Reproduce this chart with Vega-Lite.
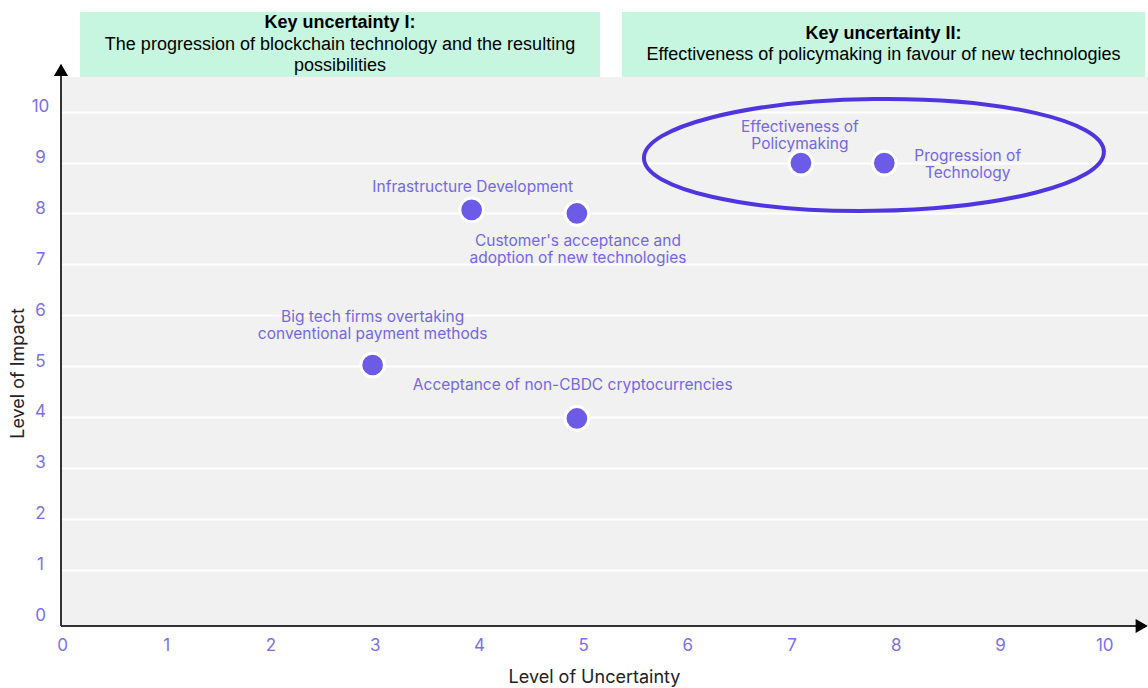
{
  "$schema": "https://vega.github.io/schema/vega-lite/v6.json",
  "width": 1087,
  "height": 614,
  "autosize": {"type": "none"},
  "padding": {"left": 61, "top": 12, "right": 0, "bottom": 62},
  "background": "white",
  "config": {
    "view": {"fill": "#f1f1f1", "stroke": null},
    "axisX": {
      "domain": false, "ticks": false, "grid": false,
      "labelColor": "#7b6ff0", "labelFont": "Inter", "labelFontSize": 17, "labelPadding": 11,
      "titleFont": "Inter", "titleFontSize": 18, "titleFontWeight": "normal", "titleColor": "#222222",
      "titleX": 533, "titleY": 51, "titleBaseline": "middle"
    },
    "axisY": {
      "domain": false, "ticks": false, "grid": true, "gridColor": "#ffffff", "gridWidth": 2,
      "labelColor": "#7b6ff0", "labelFont": "Inter", "labelFontSize": 17, "labelPadding": 21,
      "labelAlign": "center", "labelBaseline": "middle", "labelOffset": -5,
      "titleFont": "Inter", "titleFontSize": 18, "titleFontWeight": "normal", "titleColor": "#222222",
      "titleX": -43, "titleY": 361, "titleAngle": -90, "titleAlign": "center", "titleBaseline": "middle"
    }
  },
  "datasets": {
    "band": [{"x1": -0.01, "x2": 10.42, "y1": 10.682, "y2": 11.96}],
    "boxes": [
      {"x1": 0.173, "x2": 5.162, "y1": 10.682, "y2": 11.96},
      {"x1": 5.373, "x2": 10.391, "y1": 10.682, "y2": 11.96}
    ],
    "axisLines": [
      {"x1": -0.01, "y1": -0.11, "x2": -0.01, "y2": 10.8},
      {"x1": -0.01, "y1": -0.11, "x2": 10.35, "y2": -0.11}
    ],
    "arrowUp": [{"x": -0.01, "y": 10.82}],
    "arrowRight": [{"x": 10.36, "y": -0.11}],
    "ellipse": [{"x": 7.79, "y": 9.15}],
    "points": [
      {"name": "Big tech firms overtaking conventional payment methods", "uncertainty": 2.98, "impact": 5.02},
      {"name": "Infrastructure Development", "uncertainty": 3.93, "impact": 8.07},
      {"name": "Customer's acceptance and adoption of new technologies", "uncertainty": 4.94, "impact": 8.0},
      {"name": "Acceptance of non-CBDC cryptocurrencies", "uncertainty": 4.94, "impact": 3.97},
      {"name": "Effectiveness of Policymaking", "uncertainty": 7.09, "impact": 8.99},
      {"name": "Progression of Technology", "uncertainty": 7.89, "impact": 8.99}
    ],
    "labels": [
      {"text": "Infrastructure Development", "x": 3.94, "y": 8.52},
      {"text": "Customer's acceptance and", "x": 4.95, "y": 7.458},
      {"text": "adoption of new technologies", "x": 4.95, "y": 7.124},
      {"text": "Big tech firms overtaking", "x": 2.98, "y": 5.964},
      {"text": "conventional payment methods", "x": 2.98, "y": 5.63},
      {"text": "Acceptance of non-CBDC cryptocurrencies", "x": 4.9, "y": 4.628},
      {"text": "Effectiveness of", "x": 7.08, "y": 9.699},
      {"text": "Policymaking", "x": 7.08, "y": 9.365},
      {"text": "Progression of", "x": 8.69, "y": 9.129},
      {"text": "Technology", "x": 8.69, "y": 8.795}
    ],
    "headTitles": [
      {"text": "Key uncertainty I:", "x": 2.667, "y": 11.744},
      {"text": "Key uncertainty II:", "x": 7.882, "y": 11.527}
    ],
    "headBody": [
      {"text": "The progression of blockchain technology and the resulting", "x": 2.667, "y": 11.311},
      {"text": "possibilities", "x": 2.667, "y": 10.898},
      {"text": "Effectiveness of policymaking in favour of new technologies", "x": 7.882, "y": 11.115}
    ]
  },
  "layer": [
    {
      "data": {"name": "band"},
      "mark": {"type": "rect", "fill": "#ffffff"},
      "encoding": {
        "x": {"field": "x1", "type": "quantitative", "title": "Level of Uncertainty", "scale": {"domain": [-0.01, 10.42], "nice": false, "zero": false},
              "axis": {"values": [0, 1, 2, 3, 4, 5, 6, 7, 8, 9, 10], "format": "d"}},
        "x2": {"field": "x2"},
        "y": {"field": "y1", "type": "quantitative", "title": "Level of Impact", "scale": {"domain": [-0.11, 11.96], "nice": false, "zero": false},
              "axis": {"values": [0, 1, 2, 3, 4, 5, 6, 7, 8, 9, 10], "format": "d", "gridOpacity": {"condition": {"test": "datum.value === 0", "value": 0}, "value": 1}}},
        "y2": {"field": "y2"}
      }
    },
    {
      "data": {"name": "boxes"},
      "mark": {"type": "rect", "fill": "#c6f6df"},
      "encoding": {
        "x": {"field": "x1", "type": "quantitative", "title": "Level of Uncertainty", "scale": {"domain": [-0.01, 10.42], "nice": false, "zero": false}},
        "x2": {"field": "x2"},
        "y": {"field": "y1", "type": "quantitative", "title": "Level of Impact", "scale": {"domain": [-0.11, 11.96], "nice": false, "zero": false}},
        "y2": {"field": "y2"}
      }
    },
    {
      "data": {"name": "axisLines"},
      "mark": {"type": "rule", "color": "#333333", "strokeWidth": 2},
      "encoding": {
        "x": {"field": "x1", "type": "quantitative", "title": "Level of Uncertainty", "scale": {"domain": [-0.01, 10.42], "nice": false, "zero": false}},
        "x2": {"field": "x2"},
        "y": {"field": "y1", "type": "quantitative", "title": "Level of Impact", "scale": {"domain": [-0.11, 11.96], "nice": false, "zero": false}},
        "y2": {"field": "y2"}
      }
    },
    {
      "data": {"name": "arrowUp"},
      "mark": {"type": "point", "shape": "triangle-up", "filled": true, "color": "#000000", "size": 200, "opacity": 1},
      "encoding": {
        "x": {"field": "x", "type": "quantitative", "title": "Level of Uncertainty", "scale": {"domain": [-0.01, 10.42], "nice": false, "zero": false}},
        "y": {"field": "y", "type": "quantitative", "title": "Level of Impact", "scale": {"domain": [-0.11, 11.96], "nice": false, "zero": false}}
      }
    },
    {
      "data": {"name": "arrowRight"},
      "mark": {"type": "point", "shape": "triangle-right", "filled": true, "color": "#000000", "size": 200, "opacity": 1},
      "encoding": {
        "x": {"field": "x", "type": "quantitative", "title": "Level of Uncertainty", "scale": {"domain": [-0.01, 10.42], "nice": false, "zero": false}},
        "y": {"field": "y", "type": "quantitative", "title": "Level of Impact", "scale": {"domain": [-0.11, 11.96], "nice": false, "zero": false}}
      }
    },
    {
      "data": {"name": "ellipse"},
      "mark": {"type": "point", "filled": false, "stroke": "#4f35e0", "strokeWidth": 4, "opacity": 1, "size": 211600, "angle": -0.8,
               "shape": "M-1,0C-1,-0.1342,-0.5523,-0.243,0,-0.243C0.5523,-0.243,1,-0.1342,1,0C1,0.1342,0.5523,0.243,0,0.243C-0.5523,0.243,-1,0.1342,-1,0Z"},
      "encoding": {
        "x": {"field": "x", "type": "quantitative", "title": "Level of Uncertainty", "scale": {"domain": [-0.01, 10.42], "nice": false, "zero": false}},
        "y": {"field": "y", "type": "quantitative", "title": "Level of Impact", "scale": {"domain": [-0.11, 11.96], "nice": false, "zero": false}}
      }
    },
    {
      "data": {"name": "points"},
      "mark": {"type": "point", "shape": "circle", "filled": true, "fill": "#6b5be6", "stroke": "#ffffff", "strokeWidth": 3, "size": 560, "opacity": 1},
      "encoding": {
        "x": {"field": "uncertainty", "type": "quantitative", "title": "Level of Uncertainty", "scale": {"domain": [-0.01, 10.42], "nice": false, "zero": false}},
        "y": {"field": "impact", "type": "quantitative", "title": "Level of Impact", "scale": {"domain": [-0.11, 11.96], "nice": false, "zero": false}},
        "tooltip": {"field": "name"}
      }
    },
    {
      "data": {"name": "labels"},
      "mark": {"type": "text", "font": "Inter", "fontSize": 15.5, "color": "#7466e8", "align": "center", "baseline": "middle"},
      "encoding": {
        "x": {"field": "x", "type": "quantitative", "title": "Level of Uncertainty", "scale": {"domain": [-0.01, 10.42], "nice": false, "zero": false}},
        "y": {"field": "y", "type": "quantitative", "title": "Level of Impact", "scale": {"domain": [-0.11, 11.96], "nice": false, "zero": false}},
        "text": {"field": "text"}
      }
    },
    {
      "data": {"name": "headTitles"},
      "mark": {"type": "text", "font": "Liberation Sans", "fontSize": 18, "fontWeight": "bold", "color": "#000000", "align": "center", "baseline": "middle"},
      "encoding": {
        "x": {"field": "x", "type": "quantitative", "title": "Level of Uncertainty", "scale": {"domain": [-0.01, 10.42], "nice": false, "zero": false}},
        "y": {"field": "y", "type": "quantitative", "title": "Level of Impact", "scale": {"domain": [-0.11, 11.96], "nice": false, "zero": false}},
        "text": {"field": "text"}
      }
    },
    {
      "data": {"name": "headBody"},
      "mark": {"type": "text", "font": "Liberation Sans", "fontSize": 18, "color": "#000000", "align": "center", "baseline": "middle"},
      "encoding": {
        "x": {"field": "x", "type": "quantitative", "title": "Level of Uncertainty", "scale": {"domain": [-0.01, 10.42], "nice": false, "zero": false}},
        "y": {"field": "y", "type": "quantitative", "title": "Level of Impact", "scale": {"domain": [-0.11, 11.96], "nice": false, "zero": false}},
        "text": {"field": "text"}
      }
    }
  ]
}
